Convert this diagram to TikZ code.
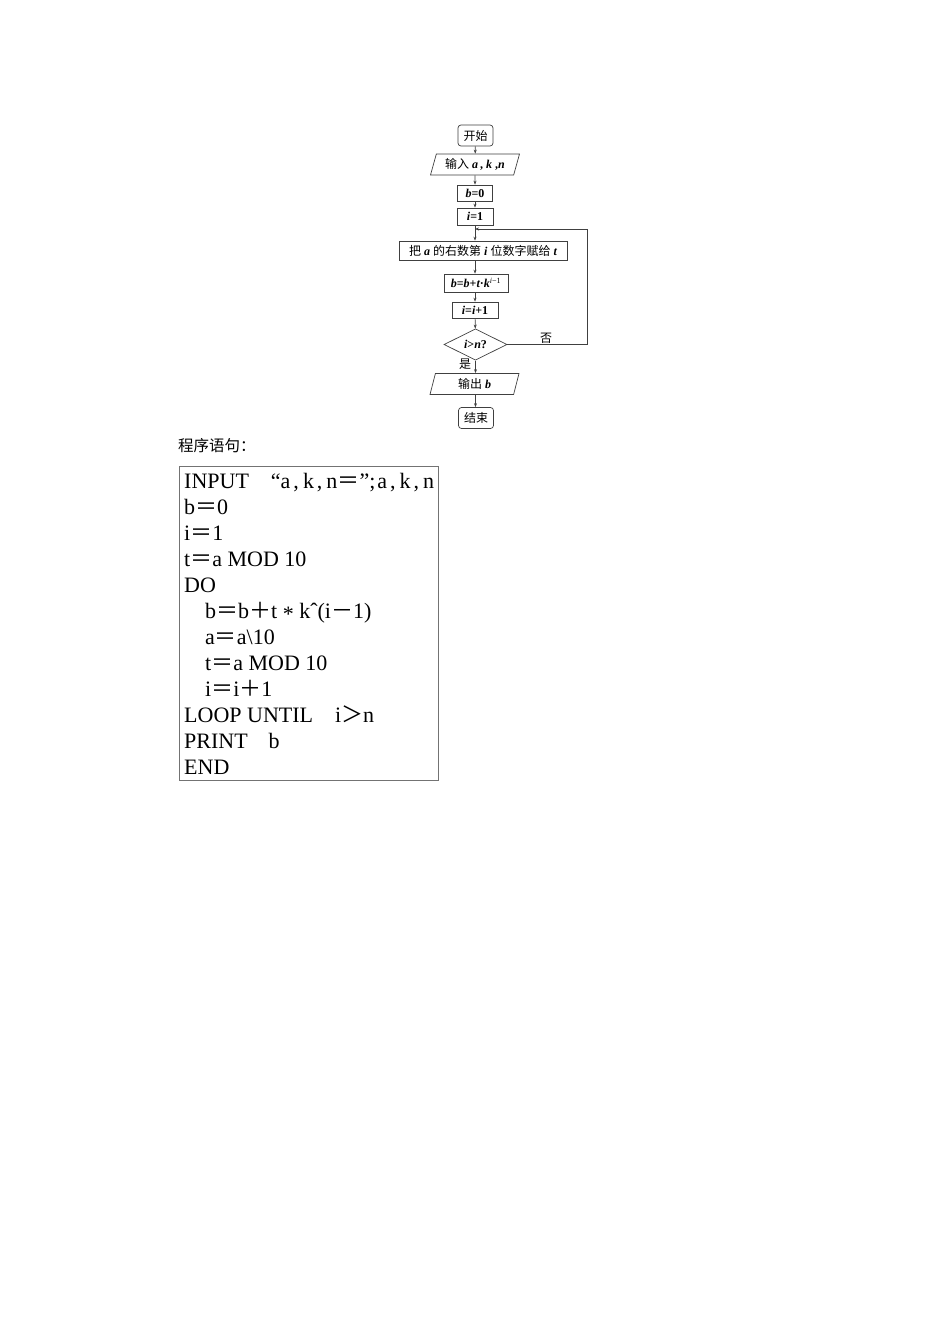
\documentclass[tikz,border=0pt]{standalone}
\usepackage{fontspec}
\setmainfont{Liberation Serif}
\newfontfamily\cjk{Noto Sans CJK SC}
\usetikzlibrary{shapes.geometric,arrows.meta}
\newcommand\fw[1]{{\cjk #1}}
\newcommand\vi[1]{{\rmfamily\bfseries\itshape #1}}
\newcommand\vb[1]{{\rmfamily\bfseries #1}}
\begin{document}
\begin{tikzpicture}[x=1pt,y=-1pt,
  fl/.style={draw=black!75, line width=0.7pt, inner sep=0pt, font=\fontsize{12}{13}\selectfont},
  term/.style={fl, rectangle, rounded corners=3pt, minimum width=35pt, minimum height=21pt},
  proc/.style={fl, rectangle},
  io/.style={fl, trapezium, trapezium left angle=64, trapezium right angle=116, trapezium stretches body, minimum width=89pt, minimum height=21pt},
  dia/.style={fl, diamond, minimum width=63pt, minimum height=23pt},
  lbl/.style={inner sep=0pt, font=\fontsize{12}{13}\selectfont\cjk},
  arr/.style={draw=black!75, line width=0.7pt, -{Stealth[length=4pt,width=3pt]}},
  code/.style={inner sep=0pt, anchor=base west, font=\fontsize{22}{24}\selectfont}
]
\useasboundingbox[fill=white] (0,0) rectangle (950,1344);

% flowchart
\node[term] (start) at (475.5,135.5) {\cjk 开始};
\node[io] (in) at (475,164.5) {{\cjk 输入} \vi{a}\,\vb{,} \vi{k} \vb{,}\vi{n}};
\node[proc, minimum width=35pt, minimum height=16pt] (b0) at (475,193) {\vi{b}\vb{=0}};
\node[proc, minimum width=36pt, minimum height=17pt] (i1) at (475,216.5) {\vi{i}\vb{=1}};
\node[proc, minimum width=168pt, minimum height=19pt] (asg) at (483,250.5) {{\cjk 把} \vi{a} {\cjk 的右数第} \vi{i} {\cjk 位数字赋给} \vi{t}};
\node[proc, minimum width=64pt, minimum height=18pt] (bb) at (476,283) {\vi{b}\vb{=}\vi{b}\vb{+}\vi{t}\vb{·}\vi{k}\textsuperscript{\textit{i}−1}};
\node[proc, minimum width=46pt, minimum height=16pt] (ii) at (475,310) {\vi{i}\vb{=}\vi{i}\vb{+1}};
\node[dia] (cond) at (475.5,344.5) {\vi{i}\vb{>}\vi{n}\vb{?}};
\node[io] (out) at (474.5,384) {{\cjk 输出} \vi{b}};
\node[term] (end) at (476,418) {\cjk 结束};

\draw[arr] (start) -- (in);
\draw[arr] (in) -- (b0);
\draw[arr] (b0) -- (i1);
\draw[arr] (i1.south) -- (i1.south |- asg.north);
\draw[arr] (i1.south |- asg.south) -- (i1.south |- bb.north);
\draw[arr] (i1.south |- bb.south) -- (ii.north);
\draw[arr] (ii) -- (cond);
\draw[arr] (cond.south) -- (cond.south |- out.north);
\draw[arr] (cond.south |- out.south) -- (cond.south |- end.north);

\coordinate (jn) at (475,229);
\coordinate (rt) at (587,229);
\draw[arr] (cond.east) -| (rt) -- (jn);
\node[lbl] (no) at (546,338) {否};
\node[lbl] (yes) at (465,364) {是};

% program
\node[inner sep=0pt, anchor=base west, font=\fontsize{15.5}{18}\selectfont\cjk] (title) at (178,451) {程序语句：};
\node[draw=black!55, line width=0.8pt, minimum width=259pt, minimum height=314pt, anchor=north west, inner sep=0pt] (box) at (179,466) {};

\node[code] (l1) at (184,488) {INPUT\hspace{22pt}“a\kern3pt,\kern4pt k\kern3pt,\kern4pt n\fw{＝}”;\kern2pt a\kern3pt,\kern4pt k\kern3pt,\kern4pt n};
\node[code] (l2) at (184,514) {b\fw{＝}0};
\node[code] (l3) at (184,540) {i\fw{＝}1};
\node[code] (l4) at (184,566) {t\fw{＝}a MOD 10};
\node[code] (l5) at (184,592) {DO};
\node[code] (l6) at (205,618) {b\fw{＝}b\fw{＋}t \raisebox{-3pt}{*} kˆ(i\fw{－}1)};
\node[code] (l7) at (205,644) {a\fw{＝}a\textbackslash 10};
\node[code] (l8) at (205,670) {t\fw{＝}a MOD 10};
\node[code] (l9) at (205,696) {i\fw{＝}i\fw{＋}1};
\node[code] (l10) at (184,722) {LOOP UNTIL\hspace{22pt}i\fw{＞}n};
\node[code] (l11) at (184,748) {PRINT\hspace{21pt}b};
\node[code] (l12) at (184,774) {END};
\end{tikzpicture}
\end{document}
